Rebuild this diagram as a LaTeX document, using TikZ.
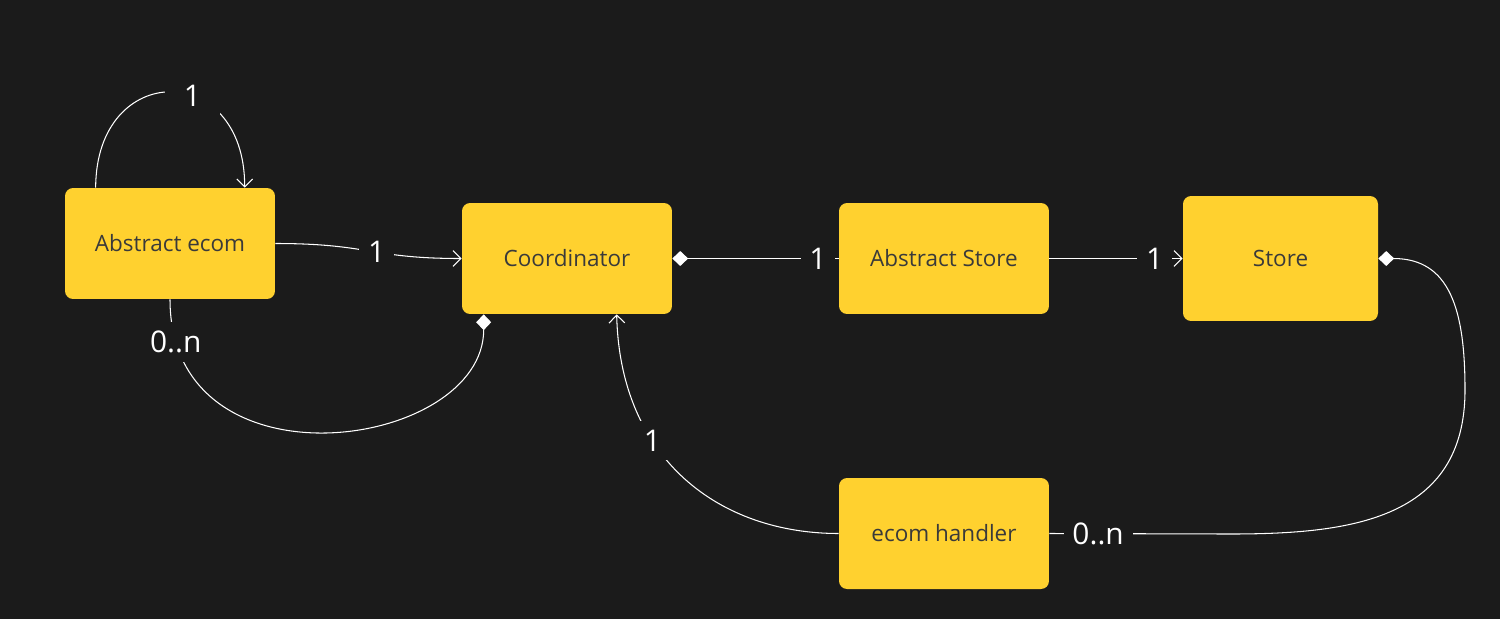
\documentclass[tikz,border=0pt]{standalone}
\usepackage{fontspec}
\setmainfont{Open Sans}
\usetikzlibrary{arrows.meta,calc}
\definecolor{bg}{HTML}{1B1B1B}
\definecolor{boxc}{HTML}{FFD12F}
\definecolor{txt}{HTML}{3A3A3A}
\begin{document}
\begin{tikzpicture}[x=0.02cm,y=-0.02cm,
  box/.style={draw=none, fill=boxc, rounded corners=0.16cm, text=txt, font=\fontsize{12.8}{15}\selectfont, minimum width=4.2cm, minimum height=2.22cm, inner sep=0pt},
  conn/.style={draw=white, line width=0.6pt},
  lbl/.style={fill=bg, text=white, font=\fontsize{17}{20}\selectfont, inner sep=5pt},
  arr/.style={-{Straight Barb[length=4.5pt,width=9pt]}},
  dia/.style={{Diamond[length=9pt,width=8.5pt,fill=white]}-}
]
\fill[bg] (0,0) rectangle (1500,619);
\node[box] (ae) at (170,243.5) {Abstract ecom};
\node[box] (co) at (567,258.5) {Coordinator};
\node[box] (as) at (944,258.5) {Abstract Store};
\node[box,minimum width=3.9cm,minimum height=2.5cm] (st) at (1280.5,258.5) {Store};
\node[box] (eh) at (944,533.5) {ecom handler};

\draw[conn,arr] ($(ae.north west)+(31,0)$) .. controls (96,60) and (245,60) .. node[lbl,pos=0.6,inner xsep=11pt]{1} ($(ae.north west)+(180,0)$);
\draw[conn,arr] (ae.east) .. controls (370,243.5) and (370,258.5) .. node[lbl,pos=0.55]{1} (co.west);
\draw[conn,dia] ($(co.south west)+(22,0)$) .. controls (484,450) and (170,495) .. node[lbl,pos=0.92]{0..n} (ae.south);
\draw[conn,dia] (co.east) -- node[lbl,pos=0.875]{1} (as.west);
\draw[conn,arr] (as.east) -- node[lbl,pos=0.79]{1} (st.west);
\draw[conn,dia] (st.east) .. controls (1450,258.5) and (1465,310) .. (1465,390) .. controls (1465,520) and (1350,534) .. (1230,534) -- node[lbl,pos=0.73]{0..n} (eh.east);
\draw[conn,arr] (eh.west) .. controls (720,533.5) and (620,460) .. node[lbl,pos=0.65]{1} ($(co.south west)+(155,0)$);
\end{tikzpicture}
\end{document}
